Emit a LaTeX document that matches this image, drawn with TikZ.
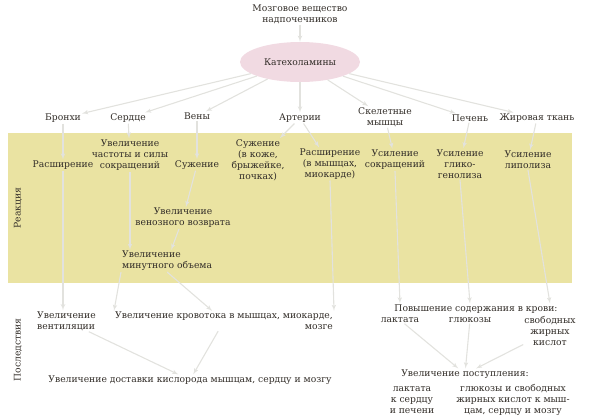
\documentclass[tikz,border=0pt]{standalone}
\usepackage{fontspec}
\setmainfont{DejaVu Serif}
\usetikzlibrary{arrows}
\usetikzlibrary{positioning}
\usetikzlibrary{shapes.geometric}
\definecolor{band}{RGB}{234,227,162}
\definecolor{blush}{RGB}{241,218,226}
\definecolor{ink}{RGB}{50,45,40}
\definecolor{faint}{RGB}{226,226,222}
\tikzset{txt/.style = {align=center, inner sep=1pt, text=ink,
                       font=\fontsize{9.2}{11}\selectfont}}
\tikzset{side/.style = {rotate=90, inner sep=1pt, text=ink,
                        font=\fontsize{9.2}{11}\selectfont}}
\tikzset{link/.style = {draw=faint, line width=1.1pt, -latex'}}

\begin{document}
\begin{tikzpicture}[x=1pt, y=-1pt]
      \useasboundingbox (0,0) rectangle (590,418);
      \fill [band] (8,133) rectangle (572,283);
      \node [txt] (src) at (300,14) {Мозговое вещество\\надпочечников};
      \node [txt, ellipse, fill=blush, minimum width=120, minimum height=40] (cat) at (300,62) {Катехоламины};
      % organs
      \node [txt] (bronchi) at (63,118) {Бронхи};
      \node [txt] (heart) at (128,118) {Сердце};
      \node [txt] (veins) at (197,116) {Вены};
      \node [txt] (arteries) at (300,118) {Артерии};
      \node [txt] (muscles) at (385,117) {Скелетные\\мышцы};
      \node [txt] (liver) at (470,118) {Печень};
      \node [txt] (fat) at (537,118) {Жировая ткань};
      % reactions
      \node [side] (react) at (18,208) {Реакция};
      \node [txt] (r-bronchi) at (63,165) {Расширение};
      \node [txt] (r-heart) at (130,155) {Увеличение\\частоты и силы\\сокращений};
      \node [txt] (r-veins) at (197,165) {Сужение};
      \node [txt] (r-art1) at (258,160) {Сужение\\(в коже,\\брыжейке,\\почках)};
      \node [txt] (r-art2) at (330,164) {Расширение\\(в мышцах,\\миокарде)};
      \node [txt] (r-musc) at (395,160) {Усиление\\сокращений};
      \node [txt] (r-liver) at (460,164) {Усиление\\глико-\\генолиза};
      \node [txt] (r-fat) at (528,160) {Усиление\\липолиза};
      \node [txt] (return) at (183,218) {Увеличение\\венозного возврата};
      \node [txt, anchor=west, align=left] (output) at (121,261) {Увеличение\\минутного объема};
      % consequences
      \node [side] (cons) at (18,350) {Последствия};
      \node [txt, anchor=west, align=left] (vent) at (36,321) {Увеличение\\вентиляции};
      \node [txt, align=right] (flow) at (224,321) {Увеличение кровотока в мышцах, миокарде,\\мозге};
      \node [txt] (blood) at (476,309) {Повышение содержания в крови:};
      \node [txt] (lact) at (400,320) {лактата};
      \node [txt] (gluc) at (470,320) {глюкозы};
      \node [txt] (ffa) at (550,331) {свободных\\жирных\\кислот};
      \node [txt] (oxygen) at (190,380) {Увеличение доставки кислорода мышцам, сердцу и мозгу};
      \node [txt] (supply) at (465,374) {Увеличение поступления:};
      \node [txt] (s-lact) at (412,400) {лактата\\к сердцу\\и печени};
      \node [txt] (s-rest) at (513,400) {глюкозы и свободных\\жирных кислот к мыш-\\цам, сердцу и мозгу};
      % connectors
      \draw [link] (src) -- (cat);
      \foreach \o in {bronchi, heart, veins, arteries, muscles, liver, fat}
        \draw [link] (cat) -- (\o);
      \draw [link] (bronchi) -- (r-bronchi);
      \draw [link] (heart) -- (r-heart);
      \draw [link] (veins) -- (r-veins);
      \draw [link] (arteries) -- (r-art1);
      \draw [link] (arteries) -- (r-art2);
      \draw [link] (muscles) -- (r-musc);
      \draw [link] (liver) -- (r-liver);
      \draw [link] (fat) -- (r-fat);
      \draw [link] (r-veins) -- (return);
      \draw [link] (return) -- (output);
      \draw [link] (r-heart.south) -- (r-heart.south |- output.north);
      \draw [link] (r-bronchi.south) -- (r-bronchi.south |- vent.north);
      \draw [link] (output.south west) -- (flow.north west);
      \draw [link] (output.south) -- (flow);
      \draw [link] (r-art2.south) -- (flow.north east);
      \draw [link] (r-musc.south) -- (blood.north -| lact);
      \draw [link] (r-liver.south) -- (blood.north -| gluc);
      \draw [link] (r-fat.south) -- (blood.north -| ffa);
      \draw [link] (vent) -- (oxygen);
      \draw [link] (flow) -- (oxygen);
      \draw [link] (lact) -- (supply);
      \draw [link] (gluc) -- (supply);
      \draw [link] (ffa) -- (supply);
    \end{tikzpicture}
\end{document}
